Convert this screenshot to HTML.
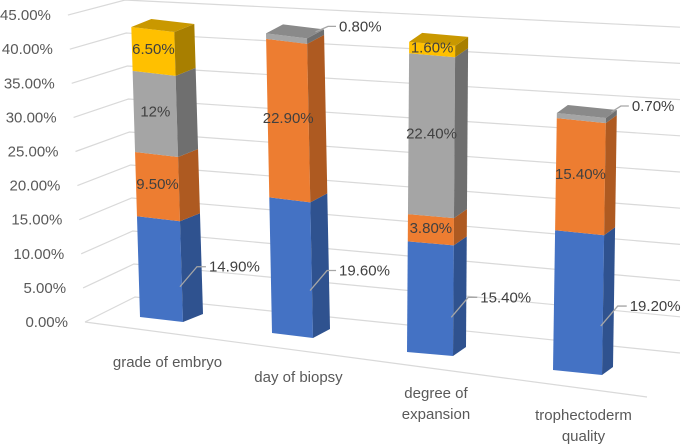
<!DOCTYPE html>
<html><head><meta charset="utf-8"><style>
body{margin:0;background:#fff}
svg{display:block;font-family:"Liberation Sans",sans-serif}
</style></head><body>
<svg id="c" width="685" height="445"></svg>
<script>
const categories=[["grade of embryo"],["day of biopsy"],["degree of","expansion"],["trophectoderm","quality"]];
const s1=[14.9,19.6,15.4,19.2];
const s2=[9.5,22.9,3.8,15.4];
const s3=[12,0.8,22.4,0.7];
const s4=[6.5,0,1.6,0];
const s1Labels=["14.90%","19.60%","15.40%","19.20%"];
const s2Labels=["9.50%","22.90%","3.80%","15.40%"];
const s3Labels=["12%","0.80%","22.40%","0.70%"];
const s4Labels=["6.50%","","1.60%",""];
const ticks=[0,5,10,15,20,25,30,35,40,45];
const tickLabels=["0.00%","5.00%","10.00%","15.00%","20.00%","25.00%","30.00%","35.00%","40.00%","45.00%"];

const NS="http://www.w3.org/2000/svg";
const svg=document.getElementById('c');
function mk(t,a,p){const e=document.createElementNS(NS,t);for(const k in a)e.setAttribute(k,a[k]);(p||svg).appendChild(e);return e;}
const geo=[
 {xl:140,w:43,y0:317,k:6.76,drop:5,lean:-0.03,dx:20,dy:-8,cy:367},
 {xl:272,w:41,y0:333,k:6.92,drop:5,lean:-0.02,dx:17,dy:-9,cy:382},
 {xl:407,w:46,y0:352,k:7.18,drop:4,lean:0.007,dx:13,dy:-9,cy:398},
 {xl:553,w:49,y0:370,k:7.28,drop:5,lean:0.015,dx:11,dy:-8,cy:420}];
const yLeft=v=>322-v*6.82, xLeft=v=>85-v*0.38;
const yBackL=v=>297-v*6.6, yBackR=v=>353-v*7.24, xBackL=v=>135-v*0.22;
ticks.forEach((t,i)=>{
  const g=mk('g',{});
  
  
  mk('polyline',{points:`${xLeft(t)},${yLeft(t)} ${xBackL(t)},${yBackL(t)} 680,${yBackR(t)}`,fill:'none',stroke:'#d9d9d9','stroke-width':1.2},g);
  const tx=mk('text',{x:xLeft(t)-17,y:yLeft(t)+5,'text-anchor':'end','font-size':15,fill:'#595959'});
  tx.textContent=tickLabels[i];
  
  
});
const fl=mk('line',{x1:85,y1:322,x2:647,y2:397,stroke:'#d9d9d9','stroke-width':1.2});



const cols=[["#4472C4","#2F528F","#3A62A8"],["#ED7D31","#AE5A21","#C96A29"],["#A5A5A5","#6F6F6F","#8A8A8A"],["#FFC000","#A87F00","#C99800"]];
const series=[s1,s2,s3,s4];
const labs=[s1Labels,s2Labels,s3Labels,s4Labels];
geo.forEach((g,i)=>{
  const bar=mk('g',{});
  
  
  const P=(v,side)=>{const h=v*g.k;return [g.xl+g.lean*h+(side?g.w:0), g.y0-h+(side?g.drop:0)];};
  let cum=0;
  series.forEach((s,j)=>{
    const v=s[i]; if(v<=0) return;
    const a=cum,b=cum+v; cum=b;
    const [x1,y1]=P(a,0),[x2,y2]=P(a,1),[x3,y3]=P(b,1),[x4,y4]=P(b,0);
    const f=mk('polygon',{points:`${x1},${y1} ${x2},${y2} ${x3},${y3} ${x4},${y4}`,fill:cols[j][0]},bar);
    
    
    const sd=mk('polygon',{points:`${x2},${y2} ${x2+g.dx},${y2+g.dy} ${x3+g.dx},${y3+g.dy} ${x3},${y3}`,fill:cols[j][1]},bar);
    
    
  });
  let topIdx=0; series.forEach((s,j)=>{if(s[i]>0)topIdx=j;});
  const [a1,b1]=P(cum,0),[a2,b2]=P(cum,1);
  const tp=mk('polygon',{points:`${a1},${b1} ${a2},${b2} ${a2+g.dx},${b2+g.dy} ${a1+g.dx},${b1+g.dy}`,fill:cols[topIdx][2]},bar);
  
  
  cum=0;
  series.forEach((s,j)=>{
    const v=s[i]; const a=cum; cum+=v; if(v<=0) return;
    const [lx,ly]=P(a+v/2,0);
    let t;
    if(j===0){
      const [px,py]=P(a+v*0.35,1);
      const ex=px+15, ey=py-20;
      mk('polyline',{points:`${px-2},${py} ${ex},${ey} ${ex+9},${ey}`,fill:'none',stroke:'#a6a6a6','stroke-width':1.3},bar);
      t=mk('text',{x:ex+12,y:ey+5,'font-size':15,fill:'#404040'},bar);
    } else if(v<1){
      const [px,py]=P(cum,1);
      mk('polyline',{points:`${px+g.dx/2},${py+g.dy/2-2} ${px+g.dx+4},${py-12} ${px+g.dx+12},${py-12}`,fill:'none',stroke:'#a6a6a6','stroke-width':1.3},bar);
      t=mk('text',{x:px+g.dx+15,y:py-7,'font-size':15,fill:'#404040'},bar);
    } else {
      t=mk('text',{x:lx+g.w/2,y:ly+5,'text-anchor':'middle','font-size':15,fill:'#404040'},bar);
    }
    t.textContent=labs[j][i];
    
    
  });
  const cx=g.xl+g.w/2+6;
  categories[i].forEach((ln,li)=>{
    const ct=mk('text',{x:cx,y:g.cy+li*21,'text-anchor':'middle','font-size':15,fill:'#595959'});
    ct.textContent=ln;
    
    
  });
});
</script>
</body></html>
